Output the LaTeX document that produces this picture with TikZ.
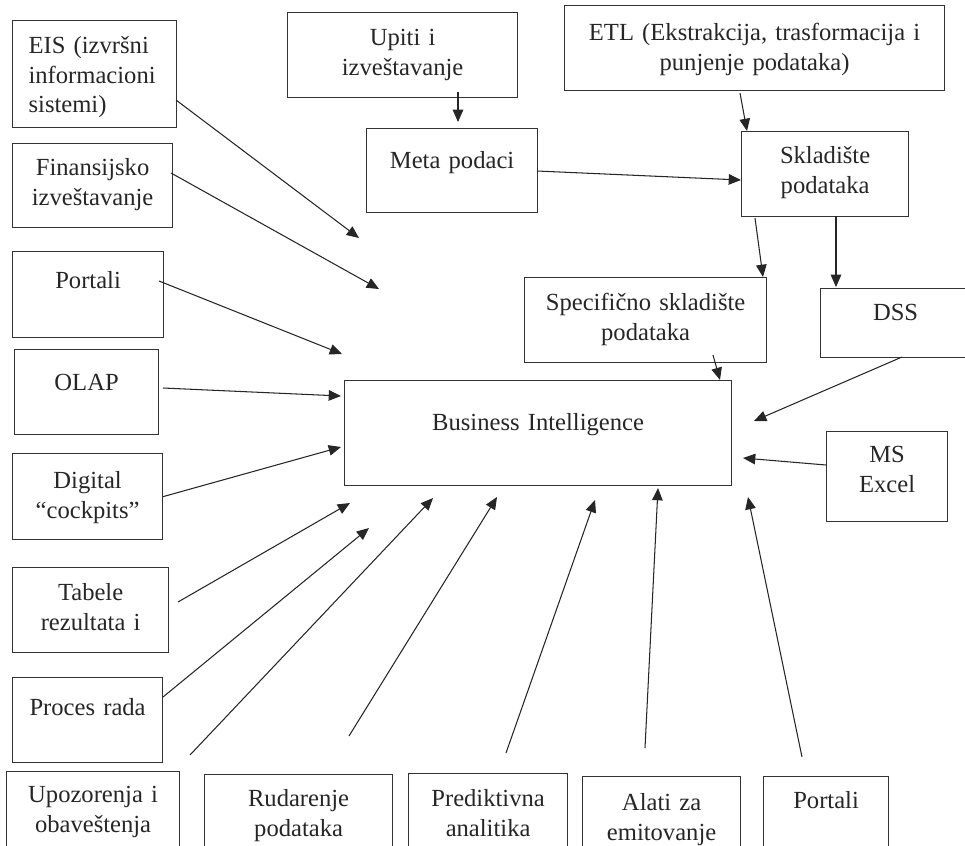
\documentclass[tikz,border=0pt]{standalone}
\usepackage{fontspec}
\setmainfont{Liberation Serif}
\usetikzlibrary{arrows.meta}

\begin{document}
\begin{tikzpicture}[x=0.02cm, y=-0.02cm,
    box/.style={draw=black!80, line width=0.7pt, inner sep=0pt, anchor=north west,
        align=center, text=black!85, font=\fontsize{14}{16.8}\selectfont},
    arr/.style={draw=black!85, line width=0.6pt, -{Triangle[length=7pt,width=6pt]}}]
\useasboundingbox (0,0) rectangle (965,846);
\clip (0,0) rectangle (965,846);

% left column
\node[box, align=left, inner xsep=0.32cm, text width=2.64cm, text height=0.66cm, text depth=1.48cm] (eis) at (12,20) {EIS (izvršni\\informacioni\\sistemi)};
\node[box, text width=3.2cm, text height=0.64cm, text depth=1.04cm] (fin) at (12,143) {Finansijsko\\izveštavanje};
\node[box, text width=3.02cm, text height=0.74cm, text depth=0.98cm] (portal) at (12,251) {Portali};
\node[box, text width=2.88cm, text height=0.82cm, text depth=0.88cm] (olap) at (14,349) {OLAP};
\node[box, text width=3.0cm, text height=0.70cm, text depth=1.02cm] (digital) at (12,453) {Digital\\“cockpits”};
\node[box, text width=3.12cm, text height=0.66cm, text depth=1.04cm] (tabele) at (12,567) {Tabele\\rezultata i};
\node[box, text width=3.0cm, text height=0.76cm, text depth=0.94cm] (proces) at (12,677) {Proces rada};

% bottom row
\node[box, text width=3.46cm, text height=0.62cm, text depth=1.10cm] (upoz) at (6,771) {Upozorenja i\\obaveštenja};
\node[box, text width=3.76cm, text height=0.64cm, text depth=1.08cm] (rud) at (204,774) {Rudarenje\\podataka};
\node[box, text width=3.18cm, text height=0.66cm, text depth=1.06cm] (pred) at (408,773) {Prediktivna\\analitika};
\node[box, text width=3.16cm, text height=0.68cm, text depth=1.04cm] (alati) at (582,776) {Alati za\\emitovanje};
\node[box, text width=2.5cm, text height=0.64cm, text depth=1.08cm] (portal2) at (763,776) {Portali};

% top and right
\node[box, text width=4.6cm, text height=0.66cm, text depth=1.04cm] (upiti) at (287,12) {Upiti i\\izveštavanje};
\node[box, text width=3.42cm, text height=0.80cm, text depth=0.88cm] (meta) at (366,128) {Meta podaci};
\node[box, text width=7.6cm, text height=0.70cm, text depth=1.00cm] (etl) at (564,5) {ETL (Ekstrakcija, trasformacija i\\punjenje podataka)};
\node[box, text width=3.34cm, text height=0.64cm, text depth=1.06cm] (skl) at (741,131) {Skladište\\podataka};
\node[box, text width=4.84cm, text height=0.66cm, text depth=1.04cm] (spec) at (524,277) {Specifično skladište\\podataka};
\node[box, text width=3.0cm, text height=0.64cm, text depth=0.74cm] (dss) at (820,288) {DSS};
\node[box, text width=2.42cm, text height=0.62cm, text depth=1.18cm] (excel) at (826,431) {MS\\Excel};

% centre
\node[box, text width=7.74cm, text height=1.0cm, text depth=1.10cm] (bi) at (344,380) {Business Intelligence};

% arrow ends
\coordinate (eis-out) at (176,100);
\coordinate (eis-in) at (359,238);
\coordinate (fin-out) at (171,173);
\coordinate (fin-in) at (379,289);
\coordinate (portal-out) at (159,281);
\coordinate (portal-in) at (342,354);
\coordinate (olap-out) at (163,388);
\coordinate (olap-in) at (341,396);
\coordinate (digital-in) at (341,447);
\coordinate (tabele-out) at (178,602);
\coordinate (tabele-in) at (350,503);
\coordinate (proces-out) at (163,697);
\coordinate (proces-in) at (369,528);
\coordinate (upoz-out) at (190,755);
\coordinate (upoz-in) at (433,498);
\coordinate (rud-out) at (349,736);
\coordinate (rud-in) at (497,497);
\coordinate (pred-out) at (506,753);
\coordinate (pred-in) at (595,500);
\coordinate (alati-out) at (645,748);
\coordinate (alati-in) at (658,488);
\coordinate (portal2-out) at (802,757);
\coordinate (portal2-in) at (748,497);
\coordinate (excel-out) at (826,465);
\coordinate (excel-in) at (743,458);
\coordinate (dss-out) at (902,357);
\coordinate (dss-in) at (754,421);
\coordinate (spec-out) at (713,355);
\coordinate (spec-in) at (720,380);
\coordinate (upiti-out) at (458,92);
\coordinate (meta-in) at (458,122);
\coordinate (etl-out) at (740,93);
\coordinate (skl-in) at (747,131);
\coordinate (meta-out) at (537,171);
\coordinate (skl-in2) at (741,180);
\coordinate (skl-out) at (755,218);
\coordinate (spec-top) at (763,277);
\coordinate (skl-out2) at (836,216);
\coordinate (dss-top) at (836,287);

% into BI
\draw[arr] (eis-out) -- (eis-in);
\draw[arr] (fin-out) -- (fin-in);
\draw[arr] (portal-out) -- (portal-in);
\draw[arr] (olap-out) -- (olap-in);
\draw[arr] (digital.east) -- (digital-in);
\draw[arr] (tabele-out) -- (tabele-in);
\draw[arr] (proces-out) -- (proces-in);
\draw[arr] (upoz-out) -- (upoz-in);
\draw[arr] (rud-out) -- (rud-in);
\draw[arr] (pred-out) -- (pred-in);
\draw[arr] (alati-out) -- (alati-in);
\draw[arr] (portal2-out) -- (portal2-in);
\draw[arr] (excel-out) -- (excel-in);
\draw[arr] (dss-out) -- (dss-in);
\draw[arr] (spec-out) -- (spec-in);

% warehouse part
\draw[arr] (upiti-out) -- (meta-in);
\draw[arr] (etl-out) -- (skl-in);
\draw[arr] (meta-out) -- (skl-in2);
\draw[arr] (skl-out) -- (spec-top);
\draw[arr] (skl-out2) -- (dss-top);

\end{tikzpicture}
\end{document}
